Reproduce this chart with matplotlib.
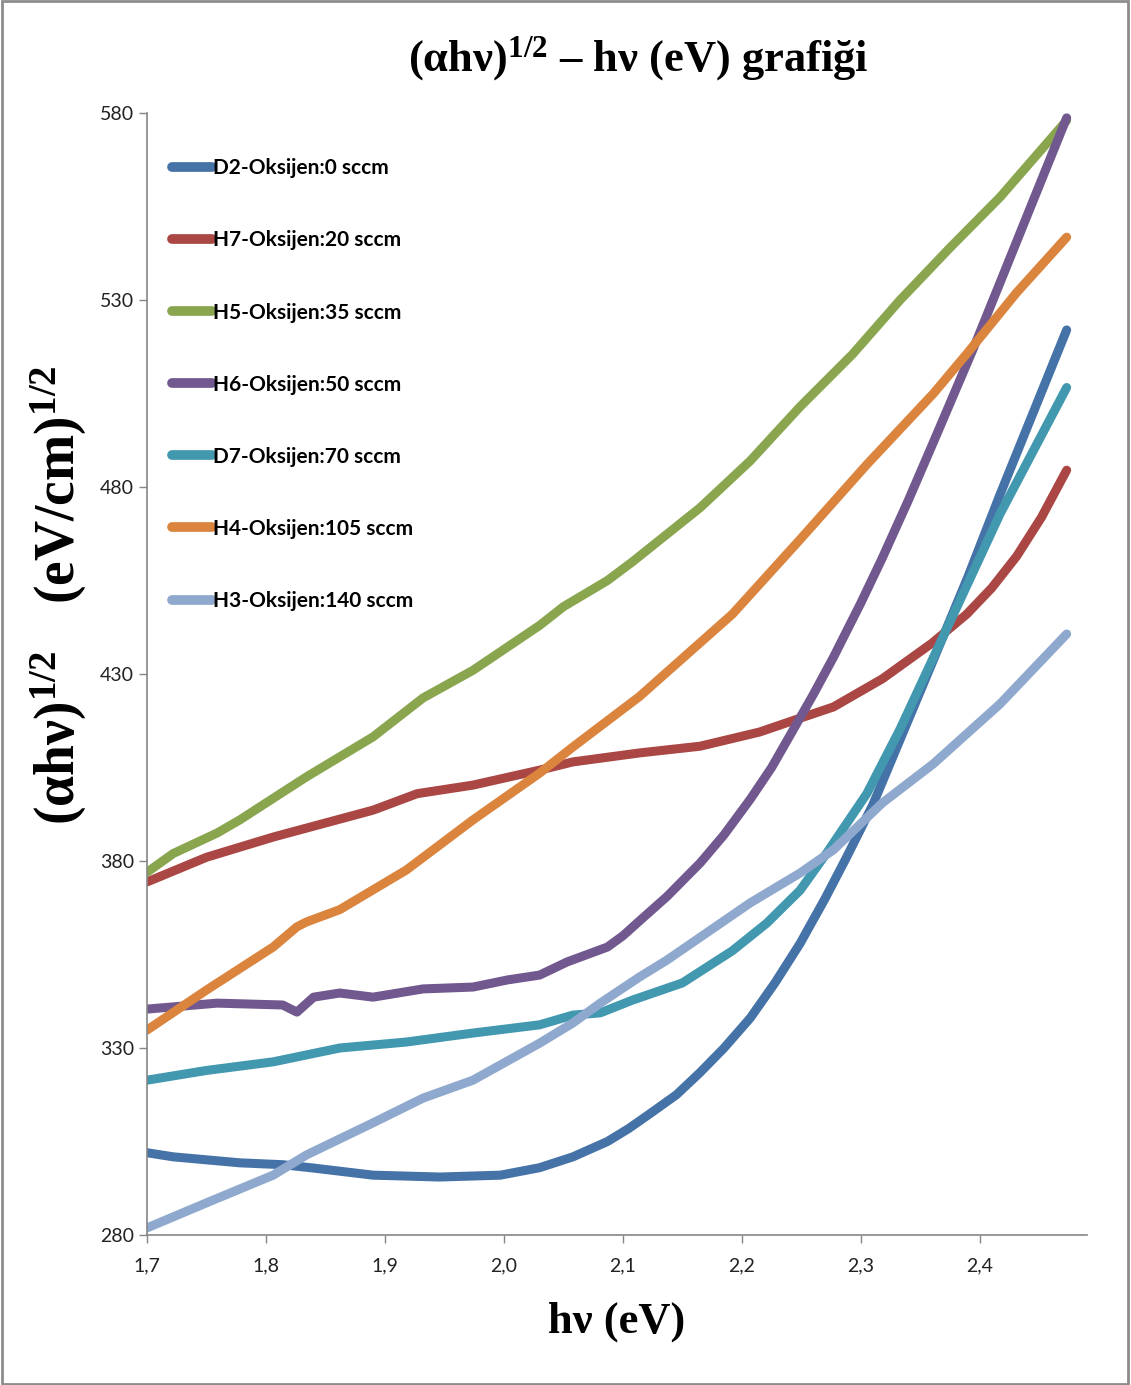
import matplotlib
matplotlib.use("Agg")
import matplotlib.pyplot as plt
from matplotlib.patches import Rectangle
from matplotlib.ticker import FuncFormatter

plt.rcParams['font.family'] = ['Lato', 'DejaVu Sans']
plt.rcParams['mathtext.fontset'] = 'custom'
plt.rcParams['mathtext.rm'] = 'Liberation Serif:bold'
plt.rcParams['mathtext.it'] = 'Liberation Serif:bold'
plt.rcParams['mathtext.bf'] = 'Liberation Serif:bold'

# photon energy (eV) and (alpha*h*nu)^(1/2) for each sample
d2_x = [1.70, 1.722, 1.778, 1.814, 1.84, 1.89, 1.946, 1.997, 2.03, 2.058, 2.087,
        2.105, 2.123, 2.145, 2.165, 2.185, 2.207, 2.228, 2.249, 2.27, 2.288, 2.31,
        2.335, 2.36, 2.39, 2.417, 2.445, 2.473]
d2_y = [302.0, 300.9, 299.3, 298.8, 297.9, 296.0, 295.5, 296.0, 298.0, 300.9, 305.0,
        308.5, 312.5, 317.5, 323.5, 330.0, 338.0, 347.5, 358.0, 370.0, 381.0, 395.0,
        414.0, 433.0, 456.0, 478.0, 500.0, 522.0]

h7_x = [1.70, 1.75, 1.806, 1.834, 1.89, 1.927, 1.974, 2.03, 2.058, 2.114, 2.165,
        2.215, 2.249, 2.277, 2.318, 2.36, 2.389, 2.41, 2.431, 2.452, 2.473]
h7_y = [374.4, 381.0, 386.4, 388.8, 393.6, 398.0, 400.3, 404.3, 406.5, 408.9, 410.7,
        414.5, 418.2, 421.2, 428.7, 438.3, 446.0, 453.0, 461.5, 472.0, 484.5]

h5_x = [1.70, 1.722, 1.759, 1.778, 1.834, 1.89, 1.932, 1.974, 2.03, 2.05, 2.087,
        2.108, 2.165, 2.207, 2.249, 2.293, 2.333, 2.375, 2.417, 2.473]
h5_y = [377.0, 382.0, 387.5, 391.0, 402.5, 413.2, 423.6, 431.0, 443.0, 448.0, 455.0,
        460.0, 474.5, 487.0, 501.5, 515.5, 530.0, 544.0, 557.5, 578.0]

h6_x = [1.70, 1.759, 1.814, 1.826, 1.84, 1.862, 1.89, 1.932, 1.974, 2.003, 2.03,
        2.053, 2.087, 2.1, 2.114, 2.137, 2.165, 2.185, 2.207, 2.225, 2.243, 2.26,
        2.277, 2.3, 2.318, 2.34, 2.361, 2.394, 2.42, 2.445, 2.473]
h6_y = [340.4, 342.0, 341.5, 339.6, 343.6, 344.7, 343.6, 345.8, 346.3, 348.2, 349.5,
        353.0, 357.0, 360.0, 364.0, 370.5, 379.5, 387.0, 396.5, 405.0, 415.0, 424.5,
        434.5, 449.0, 461.0, 476.5, 492.0, 516.6, 537.0, 556.7, 578.7]

d7_x = [1.70, 1.75, 1.806, 1.862, 1.918, 1.974, 2.03, 2.058, 2.081, 2.108, 2.15,
        2.192, 2.221, 2.249, 2.271, 2.305, 2.333, 2.375, 2.417, 2.473]
d7_y = [321.4, 324.0, 326.3, 330.0, 331.6, 334.0, 336.2, 338.8, 339.4, 342.8, 347.4,
        356.0, 363.4, 372.2, 382.0, 398.0, 415.3, 444.0, 472.8, 506.6]

h4_x = [1.70, 1.75, 1.806, 1.826, 1.834, 1.862, 1.918, 1.974, 2.03, 2.058, 2.114,
        2.137, 2.192, 2.249, 2.305, 2.361, 2.389, 2.431, 2.473]
h4_y = [334.8, 345.5, 357.0, 362.4, 363.7, 367.0, 377.6, 391.0, 403.5, 410.5, 424.0,
        430.5, 446.0, 466.0, 486.0, 505.0, 515.6, 532.0, 546.8]

h3_x = [1.70, 1.75, 1.806, 1.834, 1.89, 1.932, 1.974, 2.03, 2.058, 2.081, 2.114,
        2.137, 2.207, 2.249, 2.277, 2.318, 2.361, 2.417, 2.473]
h3_y = [281.9, 288.6, 296.0, 301.4, 310.0, 316.6, 321.4, 331.3, 336.7, 342.0, 349.0,
        353.5, 368.8, 376.8, 383.0, 395.5, 406.0, 422.0, 440.7]

labels = ["D2-Oksijen:0 sccm", "H7-Oksijen:20 sccm", "H5-Oksijen:35 sccm",
          "H6-Oksijen:50 sccm", "D7-Oksijen:70 sccm", "H4-Oksijen:105 sccm",
          "H3-Oksijen:140 sccm"]
colors = ["#4572A7", "#AA4643", "#89A54E", "#71588F", "#4198AF", "#DB843D", "#8FA9CE"]
series = [(d2_x, d2_y), (h7_x, h7_y), (h5_x, h5_y), (h6_x, h6_y),
          (d7_x, d7_y), (h4_x, h4_y), (h3_x, h3_y)]

fig = plt.figure(figsize=(11.31, 13.85), dpi=100)
ax = fig.add_axes([0.13, 0.1083, 0.831, 0.8101])

for (xs, ys), lab, c in zip(series, labels, colors):
    ax.plot(xs, ys, color=c, lw=6.5, label=lab, solid_capstyle='round',
            solid_joinstyle='round')

ax.set_xlim(1.7, 2.49)
ax.set_ylim(280, 580)
ax.set_xticks([1.7, 1.8, 1.9, 2.0, 2.1, 2.2, 2.3, 2.4])
ax.set_yticks([280, 330, 380, 430, 480, 530, 580])
ax.xaxis.set_major_formatter(FuncFormatter(lambda v, p: f"{v:.1f}".replace(".", ",")))
ax.tick_params(axis='both', colors='#868686', labelcolor='#222222', labelsize=14,
               length=6, width=1, direction='out')
ax.tick_params(axis='x', pad=10)
for s in ['top', 'right']:
    ax.spines[s].set_visible(False)
for s in ['left', 'bottom']:
    ax.spines[s].set_color('#868686')
    ax.spines[s].set_linewidth(1.2)

leg = ax.legend(loc='upper left', bbox_to_anchor=(0.018, 0.967), frameon=False,
                fontsize=15, labelspacing=2.5, handlelength=1.9, handletextpad=0.05,
                borderaxespad=0)
for t in leg.get_texts():
    t.set_fontweight('bold')
for h in leg.get_lines():
    h.set_linewidth(7)

fig.text(0.564, 0.958, r'$(\alpha h\nu)^{1/2}$ – hν (eV) grafiği', ha='center', va='center',
         fontsize=32, family='Liberation Serif', fontweight='bold')
ax.set_xlabel('hν (eV)', fontsize=32, family='Liberation Serif', fontweight='bold',
              labelpad=20)
fig.text(0.052, 0.57, r'$(\alpha h\nu)^{1/2}\ \ \ (eV/cm)^{1/2}$', rotation=90,
         ha='center', va='center', fontsize=40)

fig.patches.append(Rectangle((0.002, 0.001), 0.995, 0.998, transform=fig.transFigure,
                             fill=False, edgecolor='#8c8c8c', lw=2))

fig.savefig('out.png', dpi=100)
